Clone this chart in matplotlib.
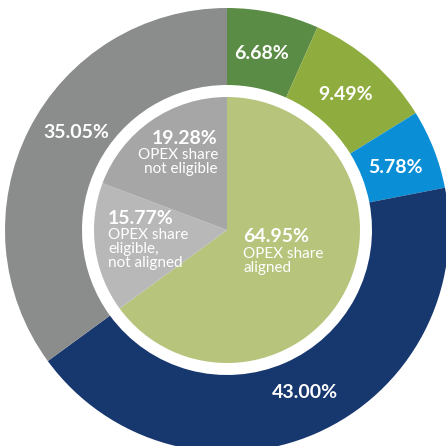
import matplotlib
matplotlib.use("Agg")
import numpy as np
import matplotlib.pyplot as plt

# Outer ring: OPEX breakdown by category (clockwise from 12 o'clock)
outer_values = [6.68, 9.49, 5.78, 43.00, 35.05]
outer_colors = ["#5b8c46", "#8fac3e", "#0a8fd7", "#17376f", "#8b8c8c"]

# Inner pie: taxonomy status of OPEX
inner_values = [64.95, 15.77, 19.28]
inner_labels = ["OPEX share\naligned", "OPEX share\neligible,\nnot aligned", "OPEX share\nnot eligible"]
inner_colors = ["#b6c47c", "#b8b8b9", "#a6a6a6"]

W = H = 446
cx, cy = 227, 216
r_outer, ring_w, r_inner = 222, 77, 133

fig = plt.figure(figsize=(W / 100, H / 100), dpi=100)
ax = fig.add_axes([0, 0, 1, 1])

_, _, pct_texts = ax.pie(outer_values, colors=outer_colors, startangle=90, counterclock=False,
                         radius=r_outer, center=(cx, cy), frame=True,
                         wedgeprops=dict(width=ring_w, linewidth=0),
                         autopct="%.2f%%", pctdistance=0.81,
                         textprops=dict(color="white", fontsize=14, fontweight="bold", family="Lato"))

# shift label angles slightly so they sit where the ring has room
angle_shift = [1, 0, -1, 2, -6]
for t, sh in zip(pct_texts, angle_shift):
    x, y = t.get_position()
    ang = np.arctan2(y - cy, x - cx) + np.deg2rad(sh)
    r = np.hypot(x - cx, y - cy)
    t.set_position((cx + r * np.cos(ang), cy + r * np.sin(ang)))

ax.pie(inner_values, colors=inner_colors, startangle=90, counterclock=False,
       radius=r_inner, center=(cx, cy), frame=True,
       wedgeprops=dict(linewidth=0))

# Inner labels: value in bold with description below
inner_pos = [(16, -7, "left"), (-119, 12, "left"), (-9, 92, "right")]
for v, lab, (dx, dy, ha) in zip(inner_values, inner_labels, inner_pos):
    ax.text(cx + dx, cy + dy, f"{v:.2f}%", color="white", fontsize=14,
            fontweight="bold", family="Lato", ha=ha, va="center")
    ax.text(cx + dx, cy + dy - 10, lab, color="white", fontsize=11,
            family="Lato", ha=ha, va="top", linespacing=1.0)

ax.set_xlim(0, W)
ax.set_ylim(0, H)
ax.set_aspect("equal")
ax.axis("off")

fig.savefig("out.png", dpi=100, facecolor="white")
